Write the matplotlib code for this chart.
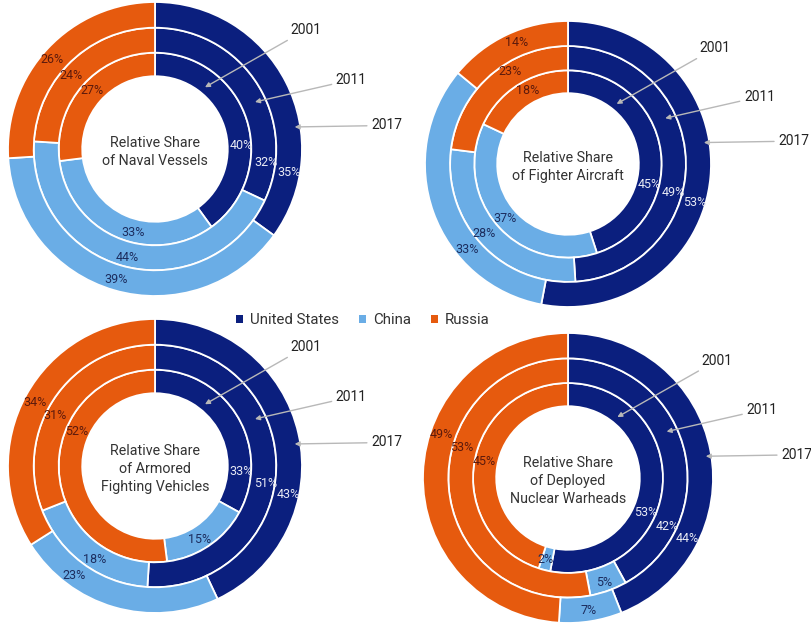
import numpy as np
import matplotlib.pyplot as plt
from matplotlib.patches import Patch

plt.rcParams['font.family'] = ['Roboto', 'DejaVu Sans']

countries = ['United States', 'China', 'Russia']
years = ['2001', '2011', '2017']
titles = ['Relative Share\nof Naval Vessels',
          'Relative Share\nof Fighter Aircraft',
          'Relative Share\nof Armored\nFighting Vehicles',
          'Relative Share\nof Deployed\nNuclear Warheads']

# shares per year (2001, 2011, 2017), order US, China, Russia
naval = [[40, 33, 27], [32, 44, 24], [35, 39, 26]]
fighter = [[45, 37, 18], [49, 28, 23], [53, 33, 14]]
armored = [[33, 15, 52], [51, 18, 31], [43, 23, 34]]
nuclear = [[53, 2, 45], [42, 5, 53], [44, 7, 49]]
datasets = [naval, fighter, armored, nuclear]

colors = ['#0b1f7e', '#6aade6', '#e65a0e']
text_colors = ['#e8eaf4', '#1c2d5e', '#5c1a0c']

# layout (pixels, from top-left)
W, H = 811, 623
centers = [(155, 149, 147), (568, 164, 143), (155, 466, 147), (568, 478, 145)]
# label angles (clockwise from top), per chart: [US, China, Russia] per ring
label_deg = [
    [[88, 195, 313], [97, 194.5, 311], [100, 196.5, 311]],
    [[104, 229, 331], [105, 230.5, 328], [107, 230, 337]],
    [[94, 148.5, 294], [99, 213, 297], [102, 216.5, 298]],
    [[114, 195.5, 281], [116, 161, 286], [117, 171, 289]],
]

radii = [0.495, 0.655, 0.825, 1.0]
label_r = [0.585, 0.76, 0.925]

fig = plt.figure(figsize=(W / 100, H / 100), dpi=100)

for k, data in enumerate(datasets):
    cx, cy, R = centers[k]
    ax = fig.add_axes([(cx - R) / W, (H - cy - R) / H, 2 * R / W, 2 * R / H])
    for i, vals in enumerate(data):
        r_out = radii[i + 1]
        width = radii[i + 1] - radii[i]
        ax.pie(vals, radius=r_out, colors=colors, startangle=90, counterclock=False,
               wedgeprops=dict(width=width, edgecolor='white', linewidth=1.3))
        for j, v in enumerate(vals):
            t = np.deg2rad(label_deg[k][i][j])
            ax.text(label_r[i] * np.sin(t), label_r[i] * np.cos(t), f'{v}%',
                    ha='center', va='center', fontsize=9, color=text_colors[j])
    ax.text(0, -0.02, titles[k], ha='center', va='center', fontsize=10.3, color='#333333',
            linespacing=1.35)

    # year annotations
    ends = [(0.34, 0.42), (0.68, 0.32), (0.95, 0.15)]
    starts = [(0.92, 0.81), (1.23, 0.47), (1.47, 0.16)]
    for yr, e, s in zip(years, ends, starts):
        ax.annotate(yr, xy=e, xytext=s, ha='left', va='center', fontsize=10, color='#222222',
                    annotation_clip=False,
                    arrowprops=dict(arrowstyle='-|>', color='#b8b8b8', lw=1,
                                    mutation_scale=7, shrinkA=1, shrinkB=0))
    ax.set_xlim(-1, 1)
    ax.set_ylim(-1, 1)
    ax.set_aspect('equal')
    ax.axis('off')

handles = [Patch(facecolor=c, label=n) for c, n in zip(colors, countries)]
fig.legend(handles=handles, loc='center', bbox_to_anchor=(363 / W, 1 - 320 / H), ncol=3,
           frameon=False, handlelength=0.45, handleheight=0.45, handletextpad=0.5,
           columnspacing=1.3, fontsize=10.8, labelcolor='#333333')

fig.savefig('out.png', dpi=100)
